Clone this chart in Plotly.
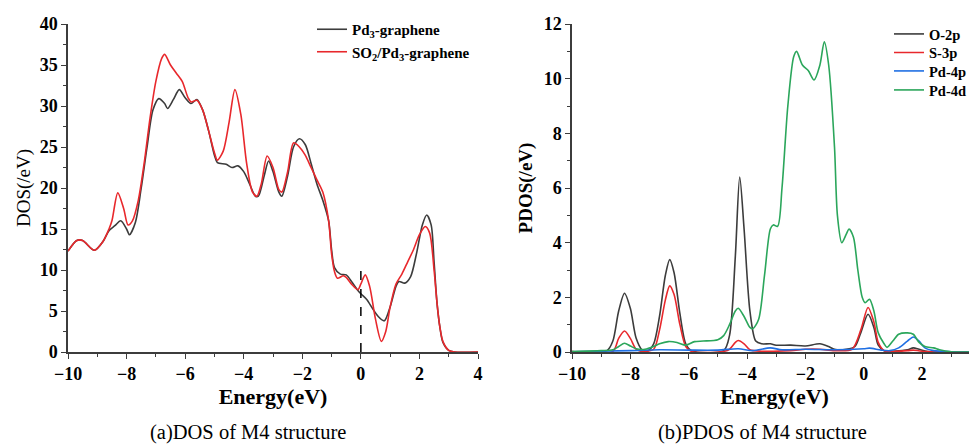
import plotly.graph_objects as go

# ---------------- Left panel: total DOS ----------------
dos_e_black = [-10, -9.7, -9.5, -9.1, -8.8, -8.6, -8.4, -8.2, -8.0, -7.9, -7.7, -7.5, -7.3, -7.1, -6.9,
               -6.7, -6.6, -6.4, -6.2, -6.0, -5.8, -5.6, -5.4, -5.2, -5.0, -4.9, -4.6, -4.4, -4.2, -4.0,
               -3.8, -3.6, -3.5, -3.3, -3.15, -3.0, -2.8, -2.7, -2.5, -2.3, -2.1, -1.9, -1.7, -1.5, -1.3,
               -1.1, -1.0, -0.9, -0.7, -0.5, -0.3, -0.1, 0.0, 0.2, 0.4, 0.6, 0.8, 1.0, 1.2, 1.3, 1.5, 1.7,
               1.9, 2.1, 2.25, 2.4, 2.5, 2.6, 2.7, 2.8, 3.0, 3.2, 4.0]
dos_black = [12.3, 13.6, 13.6, 12.4, 13.5, 14.8, 15.4, 16.0, 15.0, 14.3, 15.8, 20.0, 25.0, 29.5, 30.9,
             30.3, 29.7, 30.8, 32.0, 31.0, 30.3, 30.8, 29.5, 27.0, 24.0, 23.1, 22.9, 22.5, 22.7, 22.0,
             20.5, 19.0, 19.0, 21.5, 23.3, 22.0, 19.5, 19.0, 21.5, 25.0, 26.0, 25.3, 23.0, 20.5, 18.5,
             16.0, 12.5, 10.3, 9.5, 9.4, 8.5, 7.5, 7.1, 6.4, 5.3, 4.3, 3.8, 5.5, 8.0, 8.6, 8.4, 9.2,
             12.0, 15.5, 16.7, 15.5, 11.0, 6.0, 3.0, 1.2, 0.2, 0.0, 0.0]

dos_e_red = [-10, -9.7, -9.5, -9.1, -8.8, -8.6, -8.5, -8.3, -8.1, -7.95, -7.8, -7.6, -7.4, -7.2, -7.0,
             -6.8, -6.7, -6.5, -6.3, -6.1, -5.9, -5.8, -5.6, -5.4, -5.2, -5.0, -4.9, -4.7, -4.5, -4.3,
             -4.1, -3.9, -3.7, -3.55, -3.4, -3.2, -3.0, -2.8, -2.7, -2.5, -2.3, -2.1, -1.9, -1.7, -1.5,
             -1.3, -1.1, -1.0, -0.9, -0.8, -0.6, -0.5, -0.3, -0.1, 0.0, 0.15, 0.3, 0.5, 0.7, 0.85, 1.0,
             1.2, 1.4, 1.6, 1.8, 2.0, 2.2, 2.35, 2.5, 2.6, 2.7, 2.8, 3.0, 3.2, 4.0]
dos_red = [12.3, 13.6, 13.6, 12.4, 13.5, 15.0, 16.0, 19.4, 17.5, 15.5, 16.0, 18.5, 23.0, 28.5, 33.0,
           35.8, 36.3, 35.0, 34.0, 33.0, 31.0, 30.5, 30.7, 29.5, 27.0, 24.3, 23.4, 24.5, 28.0, 32.0,
           29.0, 23.0, 19.5, 19.0, 20.5, 23.9, 22.5, 19.8, 19.5, 22.0, 25.5, 25.0, 24.0, 22.5, 21.0,
           19.5, 16.0, 12.0, 9.8, 9.0, 9.3, 9.1, 8.2, 7.6, 8.3, 9.4, 8.0, 4.0, 1.3, 2.5, 5.5,
           8.3, 9.5, 11.0, 12.5, 14.3, 15.3, 14.5, 10.0, 6.0, 3.0, 1.3, 0.2, 0.0, 0.0]

fermi_x = [0, 0]
fermi_y = [0, 10]

# ---------------- Right panel: PDOS ----------------
o2p_e = [-10, -8.8, -8.6, -8.4, -8.2, -8.0, -7.8, -7.6, -7.4, -7.2, -7.0, -6.8, -6.65, -6.5, -6.3, -6.1,
         -5.9, -4.8, -4.6, -4.4, -4.25, -4.1, -3.9, -3.7, -3.5, -3.2, -3.0, -2.5, -2.0, -1.5, -1.2, -1.0,
         -0.6, -0.3, -0.1, 0.15, 0.35, 0.5, 0.7, 1.5, 1.7, 1.9, 2.2, 4.0]
o2p = [0.02, 0.05, 0.4, 1.5, 2.15, 1.6, 0.5, 0.08, 0.05, 0.3, 1.3, 2.8, 3.38, 2.9, 1.4, 0.3,
       0.05, 0.05, 0.6, 3.5, 6.4, 4.5, 1.5, 0.4, 0.3, 0.3, 0.25, 0.25, 0.22, 0.3, 0.2, 0.1,
       0.1, 0.2, 0.7, 1.38, 0.9, 0.25, 0.05, 0.08, 0.15, 0.1, 0.02, 0.0]

s3p_e = [-10, -8.6, -8.4, -8.2, -8.0, -7.8, -7.6, -7.2, -7.0, -6.8, -6.65, -6.5, -6.3, -6.1, -5.9,
         -4.8, -4.6, -4.4, -4.3, -4.1, -3.9, -3.5, -2.5, -2.0, -1.5, -1.0, -0.4, -0.1, 0.15, 0.35,
         0.5, 0.7, 1.5, 1.7, 2.0, 4.0]
s3p = [0.02, 0.02, 0.5, 0.77, 0.5, 0.1, 0.02, 0.1, 0.8, 1.9, 2.42, 2.1, 1.0, 0.2, 0.02,
       0.02, 0.1, 0.35, 0.42, 0.3, 0.08, 0.03, 0.05, 0.1, 0.1, 0.05, 0.1, 0.8, 1.63, 1.1,
       0.35, 0.05, 0.05, 0.07, 0.03, 0.0]

pd4p_e = [-10, -8, -7, -6, -5, -4.3, -3.8, -3.2, -2.8, -2, -1, 0, 0.2, 0.6, 0.9, 1.2, 1.5, 1.7,
          1.9, 2.1, 2.4, 3, 4]
pd4p = [0.01, 0.05, 0.08, 0.07, 0.07, 0.12, 0.05, 0.15, 0.08, 0.1, 0.08, 0.12, 0.14, 0.07, 0.05,
        0.15, 0.4, 0.55, 0.4, 0.15, 0.05, 0.01, 0.0]

pd4d_e = [-10, -9, -8.6, -8.4, -8.2, -8.0, -7.8, -7.5, -7.2, -7.0, -6.7, -6.4, -6.1, -5.8, -5.5,
          -5.0, -4.8, -4.6, -4.4, -4.3, -4.1, -3.9, -3.8, -3.6, -3.4, -3.2, -3.1, -2.95, -2.8, -2.6,
          -2.4, -2.3, -2.1, -1.9, -1.7, -1.5, -1.35, -1.2, -1.0, -0.9, -0.75, -0.6, -0.5, -0.35,
          -0.2, -0.05, 0.05, 0.2, 0.35, 0.5, 0.7, 0.8, 1.0, 1.2, 1.5, 1.7, 1.9, 2.1, 2.4, 2.6, 3.0, 4.0]
pd4d = [0.02, 0.05, 0.08, 0.2, 0.32, 0.22, 0.12, 0.1, 0.2, 0.3, 0.38, 0.35, 0.25, 0.38, 0.4,
        0.45, 0.6, 1.0, 1.5, 1.6, 1.3, 0.9, 0.85, 1.2, 2.8, 4.5, 4.65, 4.6, 6.0, 9.0,
        10.8, 11.0, 10.5, 10.3, 9.95, 10.5, 11.35, 10.5, 7.5, 5.0, 4.0, 4.3, 4.5, 4.2,
        3.0, 2.0, 1.8, 1.93, 1.5, 0.7, 0.3, 0.17, 0.4, 0.65, 0.7, 0.65, 0.35, 0.2, 0.15, 0.08, 0.01, 0.0]

left_ticks_y = [0, 5, 10, 15, 20, 25, 30, 35, 40]
right_ticks_y = [0, 2, 4, 6, 8, 10, 12]
x_ticks = [-10, -8, -6, -4, -2, 0, 2, 4]

# ---------------- figure geometry (screen px; page body has an 8px margin) ----------------
SW, SH = 977, 445
O = 8
FW, FH = SW - O, SH - O


def px(sx):
    return (sx - O) / FW


def py(sy):
    return 1 - (sy - O) / FH


SERIF = "Liberation Serif"
BLACK = "#3c3c3c"
RED = "#e8282c"
BLUE = "#1f6fe3"
GREEN = "#2ba65b"

fig = go.Figure()
lw = 1.6
fig.add_trace(go.Scatter(x=dos_e_black, y=dos_black, mode="lines", name="<b>Pd<sub>3</sub>-graphene</b>",
                         line=dict(color=BLACK, width=lw, shape="spline", smoothing=0.8),
                         xaxis="x", yaxis="y", legend="legend"))
fig.add_trace(go.Scatter(x=dos_e_red, y=dos_red, mode="lines", name="<b>SO<sub>2</sub>/Pd<sub>3</sub>-graphene</b>",
                         line=dict(color=RED, width=lw, shape="spline", smoothing=0.8),
                         xaxis="x", yaxis="y", legend="legend"))
fig.add_trace(go.Scatter(x=fermi_x, y=fermi_y, mode="lines", showlegend=False,
                         line=dict(color="black", width=1.5, dash="dash"), xaxis="x", yaxis="y"))

right_series = [(o2p_e, o2p, "O-2p", BLACK, "legend2"), (s3p_e, s3p, "S-3p", RED, "legend3"),
                (pd4p_e, pd4p, "Pd-4p", BLUE, "legend4"), (pd4d_e, pd4d, "Pd-4d", GREEN, "legend5")]
for e, v, nm, c, lg in right_series:
    fig.add_trace(go.Scatter(x=e, y=v, mode="lines", name="<b>%s</b>" % nm,
                             line=dict(color=c, width=lw, shape="spline", smoothing=0.8),
                             xaxis="x2", yaxis="y2", legend=lg))

lx0, lx1 = 68, 478
rx0 = 572
px_per_ev = (922 - 572) / 12.0
y_top, y_bot = 24, 352

tickfont = dict(family=SERIF, size=18, color="black", weight="bold")
common_axis = dict(showline=True, linecolor=BLACK, linewidth=1.5, ticks="outside", ticklen=5,
                   tickwidth=1.3, tickcolor=BLACK, showgrid=False, zeroline=False,
                   tickfont=tickfont, mirror=False, automargin=False)
minor = dict(ticks="outside", ticklen=3, tickwidth=1.1, tickcolor=BLACK, showgrid=False)

legfont = dict(family=SERIF, size=15, color="black")
rlegfont = dict(family=SERIF, size=14.5, color="black")
right_leg_tops = [18, 36.5, 55, 74]

layout_legends = dict(
    legend=dict(x=px(312), y=py(13), xanchor="left", yanchor="top", bgcolor="rgba(0,0,0,0)",
                font=legfont, itemwidth=30, tracegroupgap=2),
)
for i, top in enumerate(right_leg_tops):
    layout_legends["legend%d" % (i + 2)] = dict(x=px(889), y=py(top), xanchor="left", yanchor="top",
                                                bgcolor="rgba(0,0,0,0)", font=rlegfont, itemwidth=30)

fig.update_layout(
    width=FW, height=FH, margin=dict(l=0, r=0, t=0, b=0, autoexpand=False),
    paper_bgcolor="white", plot_bgcolor="white",
    font=dict(family=SERIF, color="black"),
    xaxis=dict(domain=[px(lx0), px(lx1)], range=[-10, 4], tickvals=x_ticks,
               minor=dict(dtick=1, **minor), anchor="y",
               title=dict(text="<b>Energy(eV)</b>", font=dict(family=SERIF, size=22), standoff=4),
               **common_axis),
    yaxis=dict(domain=[py(y_bot), py(y_top)], range=[0, 40], tickvals=left_ticks_y,
               minor=dict(dtick=2.5, **minor), anchor="x",
               title=dict(text="DOS(/eV)", font=dict(family=SERIF, size=19), standoff=4),
               **common_axis),
    xaxis2=dict(domain=[px(rx0), 1.0], range=[-10, -10 + (SW - rx0) / px_per_ev], tickvals=x_ticks,
                minor=dict(dtick=1, **minor), anchor="y2",
                title=dict(text="<b>Energy(eV)</b>", font=dict(family=SERIF, size=22), standoff=4),
                **common_axis),
    yaxis2=dict(domain=[py(y_bot), py(y_top)], range=[0, 12], tickvals=right_ticks_y,
                minor=dict(dtick=1, **minor), anchor="x2",
                title=dict(text="<b>PDOS(/eV)</b>", font=dict(family=SERIF, size=19), standoff=6),
                **common_axis),
    showlegend=True,
    **layout_legends,
)

fig.add_annotation(text="(a)DOS of M4 structure", x=px(248), y=py(432), xref="paper", yref="paper",
                   xanchor="center", yanchor="middle",
                   showarrow=False, font=dict(family=SERIF, size=20.5, color="black"))
fig.add_annotation(text="(b)PDOS of M4 structure", x=px(762), y=py(432), xref="paper", yref="paper",
                   xanchor="center", yanchor="middle",
                   showarrow=False, font=dict(family=SERIF, size=20.5, color="black"))

fig.write_html("out.html")
